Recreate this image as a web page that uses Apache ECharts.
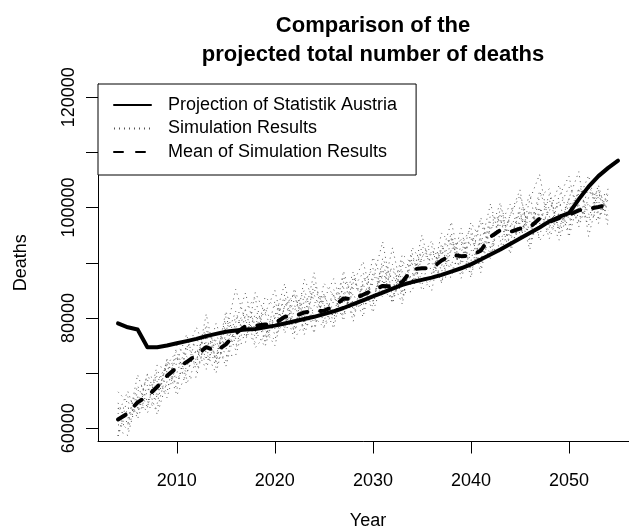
<!DOCTYPE html>
<html>
<head>
<meta charset="utf-8">
<script src="https://cdn.jsdelivr.net/npm/echarts@6/dist/echarts.min.js"></script>
<style>
    html, body { margin: 0; padding: 0; background: #fff; }
    #chart { width: 629px; height: 528px; }
</style>
</head>
<body>
<div id="chart"></div>
<script>
const years = [];
for (let y = 2004; y <= 2055; y++) years.push(y);

const xTicks = [2010, 2020, 2030, 2040, 2050];
const yTicks = [60000, 70000, 80000, 90000, 100000, 110000, 120000];
const yLabels = [60000, 80000, 100000, 120000];

// Projection of Statistik Austria, 2004..2055
const projection = [79000, 78300, 77900, 74700, 74700, 75000, 75400, 75800, 76200, 76700,
    77100, 77500, 77700, 77900, 78000, 78300, 78600, 79000, 79400, 79800,
    80200, 80700, 81200, 81800, 82500, 83200, 83900, 84600, 85300, 86000,
    86500, 86900, 87300, 87800, 88400, 89000, 89700, 90600, 91500, 92400,
    93400, 94400, 95400, 96400, 97500, 98300, 99000, 101500, 103800, 105700,
    107200, 108500];

// Mean of simulation results, 2004..2054
const simMean = [61600, 62700, 64700, 65800, 67500, 69500, 71000, 72000, 73300, 74700,
    74000, 75200, 77200, 78500, 78600, 78800, 79000, 80200, 80300, 81000,
    81200, 81300, 82100, 83500, 83400, 84200, 85000, 85800, 85700, 86500,
    88800, 89000, 89000, 90400, 91400, 91200, 91300, 92200, 94700, 95900,
    95600, 96200, 96400, 98000, 97400, 98100, 98700, 99500, 99800, 100100,
    100500];

// single simulation runs, 2004..2054
const sim1 = [63600,61700,67700,63800,71500,70500,68000,74000,78300,73700,70000,77200,85200,79500,76600,81800,78000,84200,77300,87000,83200,79300,85100,82500,88400,81200,87000,93800,83700,87500,85800,93000,91000,86400,94400,90200,97300,94200,91700,99900,96600,94200,101400,106000,96400,101100,94700,101500,105800,98100,101500];
const sim2 = [58600,63700,62700,67800,62500,68500,73000,68000,72300,77700,75000,72200,79200,84500,77600,74800,81000,78200,85300,80000,88200,78300,81100,85500,79400,87200,86000,83800,89700,83500,90800,88000,85000,93400,89400,96200,88300,93200,100700,93900,98600,103200,93400,99000,101400,96100,101700,106500,94800,102100,99500];
const sim3 = [66600,64700,63700,69800,68500,66500,75000,73000,71300,80700,72000,79200,76200,81500,83600,75800,80000,86200,78300,84000,77200,86300,84100,80500,86400,90200,83000,89800,84700,91500,89800,86000,92000,91400,97400,89200,95300,88200,96700,96900,100600,95200,99400,96000,99400,104100,97700,100500,96800,103100,96500];
const sim4 = [59600,58700,65700,62800,66500,71500,66000,70000,74300,70700,77000,73200,73200,79500,81600,77800,76000,82200,84300,77000,82200,84300,79100,88500,82400,82200,91000,86800,82700,88500,86800,95000,88000,92400,88400,92200,93300,97200,92700,91900,96600,99200,94400,102000,103400,95100,100700,97500,103800,101100,98500];
const sim5 = [62600,66700,61700,66800,69500,65500,72000,77000,70300,75700,73000,80200,75200,75500,84600,80800,77000,79200,83300,82000,79200,83300,87100,81500,84400,80200,88000,84800,92700,84500,84800,91000,94000,88400,92400,94200,87300,95200,95700,100900,92600,97200,102400,94000,96400,102100,105700,97500,100800,97100,103500];
const sim6 = [60600,60700,66700,68800,64500,72500,69000,71000,76300,72700,79000,74200,80200,77500,75600,83800,82000,81200,76300,79000,85200,82300,78100,86500,85400,85200,82000,90800,86700,82500,92800,90000,92000,89400,95400,87200,92300,90200,98700,97900,93600,100200,97400,100000,94400,99100,96700,103500,102800,102100,102500];
const sim7 = [64600,60700,69700,64800,68500,71500,74000,69000,69300,76700,71000,76200,81200,76500,79600,80800,85000,77200,81300,85000,80200,78300,83100,87500,81400,86200,89000,84800,83700,89500,89800,87000,87000,95400,93400,90200,94300,93200,93700,92900,98600,102200,95400,95000,100400,100100,103700,100500,97800,104100,97500];
const sim8 = [58600,65700,63700,63800,70500,67500,70000,75000,75300,71700,76000,71200,78200,81500,74600,76800,80000,83200,77300,83000,84200,80300,84100,79500,87400,83200,84000,87800,88700,85500,87800,92000,90000,87400,87400,93200,96300,89200,97700,97900,91600,98200,95400,103000,98400,94100,99700,102500,103800,99100,101500];
const sim9 = [63600,63700,62700,69800,65500,72500,67000,75000,72300,78700,72000,81200,76200,76500,80600,75800,83000,78200,82300,78000,86200,82300,81100,80500,85400,88200,83000,88800,82700,90500,86800,91000,93000,86400,92400,94200,90300,98200,92700,96900,97600,94200,99400,97000,102400,96100,101700,96500,101800,103100,99500];
const sim10 = [61600,59700,65700,64800,63500,70500,73000,70000,74300,72700,73000,78200,74200,80500,79600,77800,75000,82200,84300,79000,78200,84300,80100,84500,80400,86200,81000,86800,87700,84500,91800,85000,87000,92400,94400,88200,89300,94200,90700,98900,94600,99200,92400,100000,95400,99100,95700,103500,98800,98100,102500];
const sims = [sim1, sim2, sim3, sim4, sim5, sim6, sim7, sim8, sim9, sim10];

const FONT = "'Liberation Sans', Arial, Helvetica, sans-serif";

function toPoints(values) {
    return values.map((v, i) => [years[i], v]);
}

let chart = echarts.init(document.getElementById("chart"), null, { renderer: "canvas" });

let series = sims.map(arr => ({
    name: "Simulation Results",
    type: "line",
    data: toPoints(arr),
    symbol: "none",
    silent: true,
    color: "#000",
    lineStyle: { color: "#555", width: 1, type: [1, 4] },
    z: 2
}));

series.push({
    name: "Projection of Statistik Austria",
    type: "line",
    data: toPoints(projection),
    symbol: "none",
    color: "#000",
    lineStyle: { color: "#000", width: 4, type: "solid", cap: "round", join: "round" },
    z: 3
});

series.push({
    name: "Mean of Simulation Results",
    type: "line",
    data: toPoints(simMean),
    symbol: "none",
    color: "#000",
    lineStyle: { color: "#000", width: 4, type: [9, 13], cap: "round", join: "round" },
    z: 4
});

let options = {
    animation: false,
    backgroundColor: "#fff",
    textStyle: { fontFamily: FONT, color: "#000" },
    title: {
        text: "Comparison of the\nprojected total number of deaths",
        left: 368,
        top: 6,
        textAlign: "center",
        textStyle: {
            fontFamily: FONT,
            fontSize: 22,
            fontWeight: "bold",
            color: "#000",
            lineHeight: 29
        }
    },
    grid: {
        left: 98,
        top: 84,
        width: 540,
        height: 357.5,
        containLabel: false,
        outerBoundsMode: "none"
    },
    legend: {
        orient: "vertical",
        left: 98,
        top: 84,
        data: ["Projection of Statistik Austria", "Simulation Results", "Mean of Simulation Results"],
        itemWidth: 37,
        itemHeight: 14,
        itemGap: 5.5,
        padding: [12, 19, 14, 15],
        borderColor: "#000",
        borderWidth: 1,
        borderRadius: 0,
        backgroundColor: "#fff",
        selectedMode: false,
        itemStyle: { opacity: 0 },
        textStyle: {
            fontFamily: FONT,
            fontSize: 18,
            lineHeight: 18,
            color: "#000",
            padding: [0, 0, 0, 12]
        }
    },
    xAxis: {
        type: "value",
        min: 2001.96,
        max: 2057.04,
        name: "Year",
        nameLocation: "middle",
        nameGap: 71,
        nameTextStyle: { fontFamily: FONT, fontSize: 18, color: "#000" },
        axisLine: { show: true, lineStyle: { color: "#000", width: 1 } },
        axisTick: { show: true, length: 12, customValues: xTicks, lineStyle: { color: "#000" } },
        axisLabel: {
            customValues: xTicks, fontSize: 18, margin: 31, color: "#000", fontFamily: FONT,
            formatter: v => String(v)
        },
        splitLine: { show: false }
    },
    yAxis: {
        type: "value",
        min: 57600,
        max: 122400,
        name: "Deaths",
        nameLocation: "middle",
        nameGap: 68,
        nameRotate: 90,
        nameTextStyle: { fontFamily: FONT, fontSize: 18, color: "#000" },
        axisLine: { show: true, lineStyle: { color: "#000", width: 1 } },
        axisTick: { show: true, length: 12, customValues: yTicks, lineStyle: { color: "#000" } },
        axisLabel: {
            customValues: yLabels, fontSize: 18, margin: 20, rotate: 90, color: "#000", fontFamily: FONT,
            formatter: v => String(v)
        },
        splitLine: { show: false }
    },
    series
};
chart.setOption(options);
</script>
</body>
</html>
